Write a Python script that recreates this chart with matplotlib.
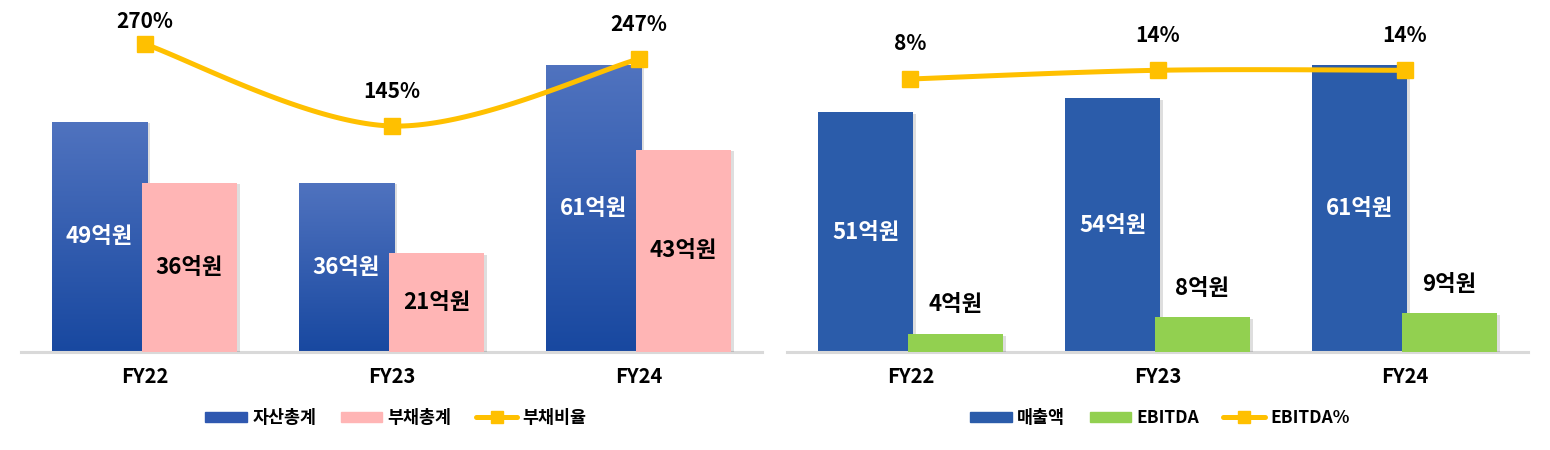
import numpy as np
import matplotlib
matplotlib.use('Agg')
import matplotlib.pyplot as plt
import matplotlib.patheffects as pe
from matplotlib.patches import Patch
from matplotlib.lines import Line2D

plt.rcParams['font.family'] = ['Noto Sans CJK KR', 'DejaVu Sans']
plt.rcParams['font.weight'] = 'heavy'

# --- data
years = ['FY22', 'FY23', 'FY24']

assets = [49, 36, 61]          # 자산총계 (억원)
debts = [36, 21, 43]           # 부채총계 (억원)
debt_ratio = [270, 145, 247]   # 부채비율 (%)

sales = [51, 54, 61]           # 매출액 (억원)
ebitda = [3.8, 7.4, 8.2]       # EBITDA (억원, bar height as drawn)
ebitda_text = ['4억원', '8억원', '9억원']
ebitda_pct = [8, 14, 14]       # EBITDA% (%)

# --- colours
BLUE_TOP = '#5073bf'
BLUE_BOT = '#1848a0'
BLUE = '#2b5caa'
PINK = '#ffb5b5'
GREEN = '#92d050'
YELLOW = '#ffc000'
GRID = '#d9d9d9'

FIG_W, FIG_H = 1550, 450
PX_TOP = 10       # axes top, px from figure top
PX_BASE = 352     # baseline, px from figure top
PX_PER_UNIT = 4.7 # bar px per 억원
W = 'heavy'


def smooth(xs, ys, n=60):
    # catmull-rom through the points (like the excel smoothed line)
    p = np.column_stack([xs, ys]).astype(float)
    p = np.vstack([p[0], p, p[-1]])
    out = []
    for i in range(1, len(p) - 2):
        p0, p1, p2, p3 = p[i - 1], p[i], p[i + 1], p[i + 2]
        c1 = p1 + (p2 - p0) / 6
        c2 = p2 - (p3 - p1) / 6
        t = np.linspace(0, 1, n)[:, None]
        seg = ((1 - t) ** 3) * p1 + 3 * ((1 - t) ** 2) * t * c1 + 3 * (1 - t) * t ** 2 * c2 + t ** 3 * p2
        out.append(seg)
    out = np.vstack(out)
    return out[:, 0], out[:, 1]


def make_axes(fig, left_px, right_px):
    h = PX_BASE - PX_TOP
    ax = fig.add_axes([left_px / FIG_W, (FIG_H - PX_BASE) / FIG_H,
                       (right_px - left_px) / FIG_W, h / FIG_H])
    ax.set_xlim(-0.5, 2.5)
    ax.set_ylim(0, h / PX_PER_UNIT)
    for s in ['top', 'right', 'left']:
        ax.spines[s].set_visible(False)
    ax.spines['bottom'].set_color(GRID)
    ax.spines['bottom'].set_linewidth(2.2)
    ax.set_yticks([])
    ax.set_xticks(range(len(years)))
    ax.set_xticklabels(years, fontsize=14.5, fontweight=W)
    ax.tick_params(axis='x', length=0, pad=10)
    return ax


def gradient_bars(ax, bars):
    grad = np.linspace(0, 1, 256)[:, None]
    cmap = matplotlib.colors.LinearSegmentedColormap.from_list('g', [BLUE_BOT, BLUE_TOP])
    for b in bars:
        x0, w, hgt = b.get_x(), b.get_width(), b.get_height()
        im = ax.imshow(grad, cmap=cmap, aspect='auto', origin='lower',
                       extent=[x0, x0 + w, 0, hgt], zorder=2.1)
        im.set_clip_path(b)
    ax.set_xlim(-0.5, 2.5)
    ax.set_ylim(0, (PX_BASE - PX_TOP) / PX_PER_UNIT)


def line_axis(fig, ax, values, px_first, px_per_pct, labels):
    ax2 = ax.twinx()
    h = PX_BASE - PX_TOP
    top = values[0] + (px_first - PX_TOP) / px_per_pct
    ax2.set_ylim(top - h / px_per_pct, top)
    ax2.set_axis_off()
    x = np.arange(len(values))
    sx, sy = smooth(x, values)
    ax2.plot(sx, sy, color=YELLOW, lw=3.6, solid_capstyle='round', zorder=5)
    ax2.plot(x, values, ls='none', marker='s', ms=11, color=YELLOW, zorder=6)
    # labels ~35px above the marker, kept inside the top of the figure
    for xi, v, t in zip(x, values, labels):
        dx, dy = ax2.transData.transform((xi, v))
        ty = min(dy + 35, FIG_H - 22)
        fig.text(dx, ty, t, transform=None, ha='center', va='center',
                 fontsize=15, fontweight=W, color='black')
    return ax2


shadow = [pe.withSimplePatchShadow(offset=(2, -1), shadow_rgbFace='k', alpha=0.13)]

fig = plt.figure(figsize=(FIG_W / 100, FIG_H / 100), dpi=100)

# ---------------- left: 자산 / 부채
ax1 = make_axes(fig, 21, 762)
x = np.arange(len(years))
off, w = 0.182, 0.385
b1 = ax1.bar(x - off, assets, w, color=BLUE_BOT, zorder=2)
for b in b1:
    b.set_path_effects(shadow)
gradient_bars(ax1, b1)
b2 = ax1.bar(x + off, debts, w, color=PINK, zorder=3)
for b in b2:
    b.set_path_effects(shadow)
for xi, v in zip(x, assets):
    ax1.text(xi - off, v / 2, f'{v}억원', ha='center', va='center', color='white',
             fontsize=16, fontweight=W, zorder=4)
for xi, v in zip(x, debts):
    ax1.text(xi + off, v / 2, f'{v}억원', ha='center', va='center', color='black',
             fontsize=16, fontweight=W, zorder=4)
line_axis(fig, ax1, debt_ratio, 44, 0.656, [f'{v}%' for v in debt_ratio])

# ---------------- right: 매출 / EBITDA
ax3 = make_axes(fig, 787, 1528)
b3 = ax3.bar(x - off, sales, w, color=BLUE, zorder=2)
for b in b3:
    b.set_path_effects(shadow)
b4 = ax3.bar(x + off, ebitda, w, color=GREEN, zorder=3)
for b in b4:
    b.set_path_effects(shadow)
for xi, v in zip(x, sales):
    ax3.text(xi - off, v / 2, f'{v}억원', ha='center', va='center', color='white',
             fontsize=16, fontweight=W, zorder=4)
for xi, v, t in zip(x, ebitda, ebitda_text):
    ax3.annotate(t, (xi + off, v), xytext=(0, 21), textcoords='offset points',
                 ha='center', va='center', color='black', fontsize=16, fontweight=W)
line_axis(fig, ax3, ebitda_pct, 79, 1.45, [f'{v}%' for v in ebitda_pct])

# ---------------- legends
leg_kw = dict(ncol=3, frameon=False, handlelength=2.4, handleheight=0.55,
              handletextpad=0.3, columnspacing=1.4, loc='center',
              prop=dict(size=12.5, weight=W))
h1 = [Patch(color='#2f58b0'), Patch(color=PINK),
      Line2D([], [], color=YELLOW, lw=3.6, marker='s', ms=9, solid_capstyle='round')]
fig.legend(h1, ['자산총계', '부채총계', '부채비율'],
           bbox_to_anchor=(396 / FIG_W, 32 / FIG_H), **leg_kw)
h2 = [Patch(color=BLUE), Patch(color=GREEN),
      Line2D([], [], color=YELLOW, lw=3.6, marker='s', ms=9, solid_capstyle='round')]
fig.legend(h2, ['매출액', 'EBITDA', 'EBITDA%'],
           bbox_to_anchor=(1160 / FIG_W, 32 / FIG_H), **leg_kw)

fig.savefig('out.png', dpi=100)
